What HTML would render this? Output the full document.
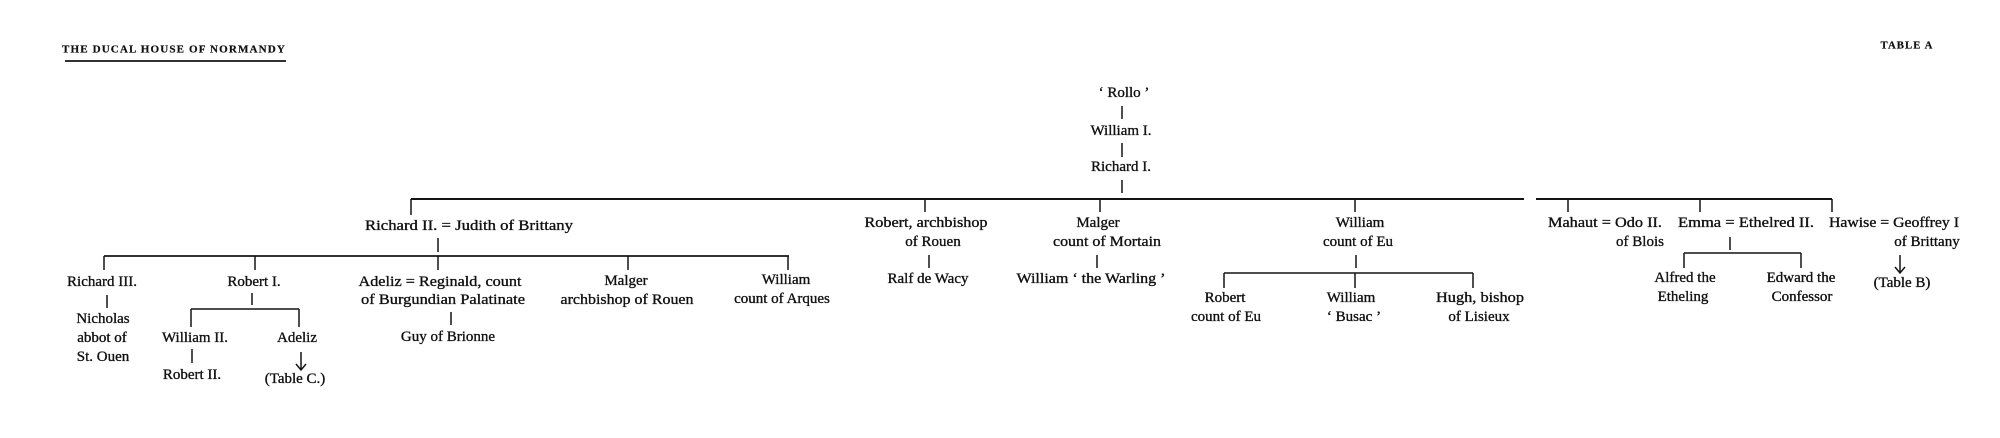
<!DOCTYPE html>
<html><head><meta charset="utf-8"><style>
html,body{margin:0;padding:0;background:#fff;}
svg{display:block;}
text{font-family:"Liberation Serif",serif;font-size:15px;fill:#111;stroke:#111;stroke-width:0.35px;}
.t{font-size:10px;font-weight:bold;letter-spacing:1px;stroke-width:0.2px;}
</style></head><body>
<svg width="2000" height="438" viewBox="0 0 2000 438" xmlns="http://www.w3.org/2000/svg">
<g stroke="#141414" stroke-width="1.5" fill="none">
<line x1="65" y1="61" x2="286" y2="61" stroke-width="1.8"/>
<line x1="1122" y1="106" x2="1122" y2="119"/>
<line x1="1122" y1="143" x2="1122" y2="157"/>
<line x1="1122" y1="180" x2="1122" y2="193"/>
<line x1="411" y1="199" x2="1524" y2="199" stroke-width="2"/>
<line x1="1536" y1="199" x2="1832" y2="199" stroke-width="2"/>
<line x1="411" y1="199" x2="411" y2="215"/>
<line x1="925" y1="199" x2="925" y2="212"/>
<line x1="1100" y1="199" x2="1100" y2="212"/>
<line x1="1355" y1="199" x2="1355" y2="212"/>
<line x1="1568" y1="199" x2="1568" y2="212"/>
<line x1="1700" y1="199" x2="1700" y2="212"/>
<line x1="1832" y1="199" x2="1832" y2="212"/>
<line x1="438" y1="238" x2="438" y2="252"/>
<line x1="104" y1="256" x2="789" y2="256" stroke-width="1.8"/>
<line x1="104" y1="256" x2="104" y2="270"/>
<line x1="255" y1="256" x2="255" y2="270"/>
<line x1="438" y1="256" x2="438" y2="270"/>
<line x1="628" y1="256" x2="628" y2="270"/>
<line x1="788" y1="256" x2="788" y2="270"/>
<line x1="107" y1="295" x2="107" y2="308"/>
<line x1="252" y1="293" x2="252" y2="305"/>
<line x1="191" y1="309" x2="299" y2="309"/>
<line x1="191" y1="309" x2="191" y2="327"/>
<line x1="299" y1="309" x2="299" y2="327"/>
<line x1="192" y1="349" x2="192" y2="363"/>
<path d="M301 352 V370 M296 364 L301 370 L306 364"/>
<line x1="451" y1="312" x2="451" y2="325"/>
<line x1="929" y1="255" x2="929" y2="268"/>
<line x1="1097" y1="255" x2="1097" y2="268"/>
<line x1="1356" y1="255" x2="1356" y2="268"/>
<line x1="1224" y1="273" x2="1473" y2="273"/>
<line x1="1224" y1="273" x2="1224" y2="288"/>
<line x1="1355" y1="273" x2="1355" y2="288"/>
<line x1="1473" y1="273" x2="1473" y2="288"/>
<line x1="1730" y1="237" x2="1730" y2="250"/>
<line x1="1684" y1="253" x2="1801" y2="253"/>
<line x1="1684" y1="253" x2="1684" y2="268"/>
<line x1="1801" y1="253" x2="1801" y2="268"/>
<path d="M1900 255 V273 M1895 267 L1900 273 L1905 267"/>
</g>
<g dominant-baseline="central" text-anchor="middle">
<text class="t" x="174" y="50" textLength="224" lengthAdjust="spacingAndGlyphs">THE DUCAL HOUSE OF NORMANDY</text>
<text class="t" x="1907" y="46" textLength="53" lengthAdjust="spacingAndGlyphs">TABLE A</text>

<text x="1124" y="93">‘ Rollo ’</text>
<text x="1121" y="131">William I.</text>
<text x="1121" y="167">Richard I.</text>

<text x="469" y="226" textLength="208" lengthAdjust="spacingAndGlyphs">Richard II. = Judith of Brittany</text>

<text x="102" y="282">Richard III.</text>
<text x="103" y="319">Nicholas</text>
<text x="102" y="338">abbot of</text>
<text x="103" y="357">St. Ouen</text>

<text x="254" y="282">Robert I.</text>
<text x="195" y="338">William II.</text>
<text x="192" y="375">Robert II.</text>
<text x="297" y="338">Adeliz</text>
<text x="295" y="379">(Table C.)</text>

<text x="440" y="282" textLength="163" lengthAdjust="spacingAndGlyphs">Adeliz = Reginald, count</text>
<text x="443" y="300" textLength="164" lengthAdjust="spacingAndGlyphs">of Burgundian Palatinate</text>
<text x="448" y="337">Guy of Brionne</text>

<text x="626" y="281">Malger</text>
<text x="627" y="300" textLength="133" lengthAdjust="spacingAndGlyphs">archbishop of Rouen</text>

<text x="786" y="280">William</text>
<text x="782" y="299">count of Arques</text>

<text x="926" y="223" textLength="123" lengthAdjust="spacingAndGlyphs">Robert, archbishop</text>
<text x="933" y="242">of Rouen</text>
<text x="928" y="279">Ralf de Wacy</text>

<text x="1098" y="223">Malger</text>
<text x="1107" y="242" textLength="108" lengthAdjust="spacingAndGlyphs">count of Mortain</text>
<text x="1091" y="279" textLength="149" lengthAdjust="spacingAndGlyphs">William ‘ the Warling ’</text>

<text x="1360" y="223">William</text>
<text x="1358" y="242">count of Eu</text>

<text x="1225" y="298">Robert</text>
<text x="1226" y="317">count of Eu</text>
<text x="1351" y="298">William</text>
<text x="1354" y="317">‘ Busac ’</text>
<text x="1480" y="298" textLength="88" lengthAdjust="spacingAndGlyphs">Hugh, bishop</text>
<text x="1479" y="317">of Lisieux</text>

<text x="1605" y="223" textLength="114" lengthAdjust="spacingAndGlyphs">Mahaut = Odo II.</text>
<text x="1640" y="242">of Blois</text>
<text x="1746" y="223" textLength="136" lengthAdjust="spacingAndGlyphs">Emma = Ethelred II.</text>
<text x="1685" y="278">Alfred the</text>
<text x="1683" y="297">Etheling</text>
<text x="1801" y="278">Edward the</text>
<text x="1802" y="297">Confessor</text>

<text x="1894" y="223" textLength="130" lengthAdjust="spacingAndGlyphs">Hawise = Geoffrey I</text>
<text x="1927" y="242">of Brittany</text>
<text x="1902" y="283">(Table B)</text>
</g>
</svg>
</body></html>
